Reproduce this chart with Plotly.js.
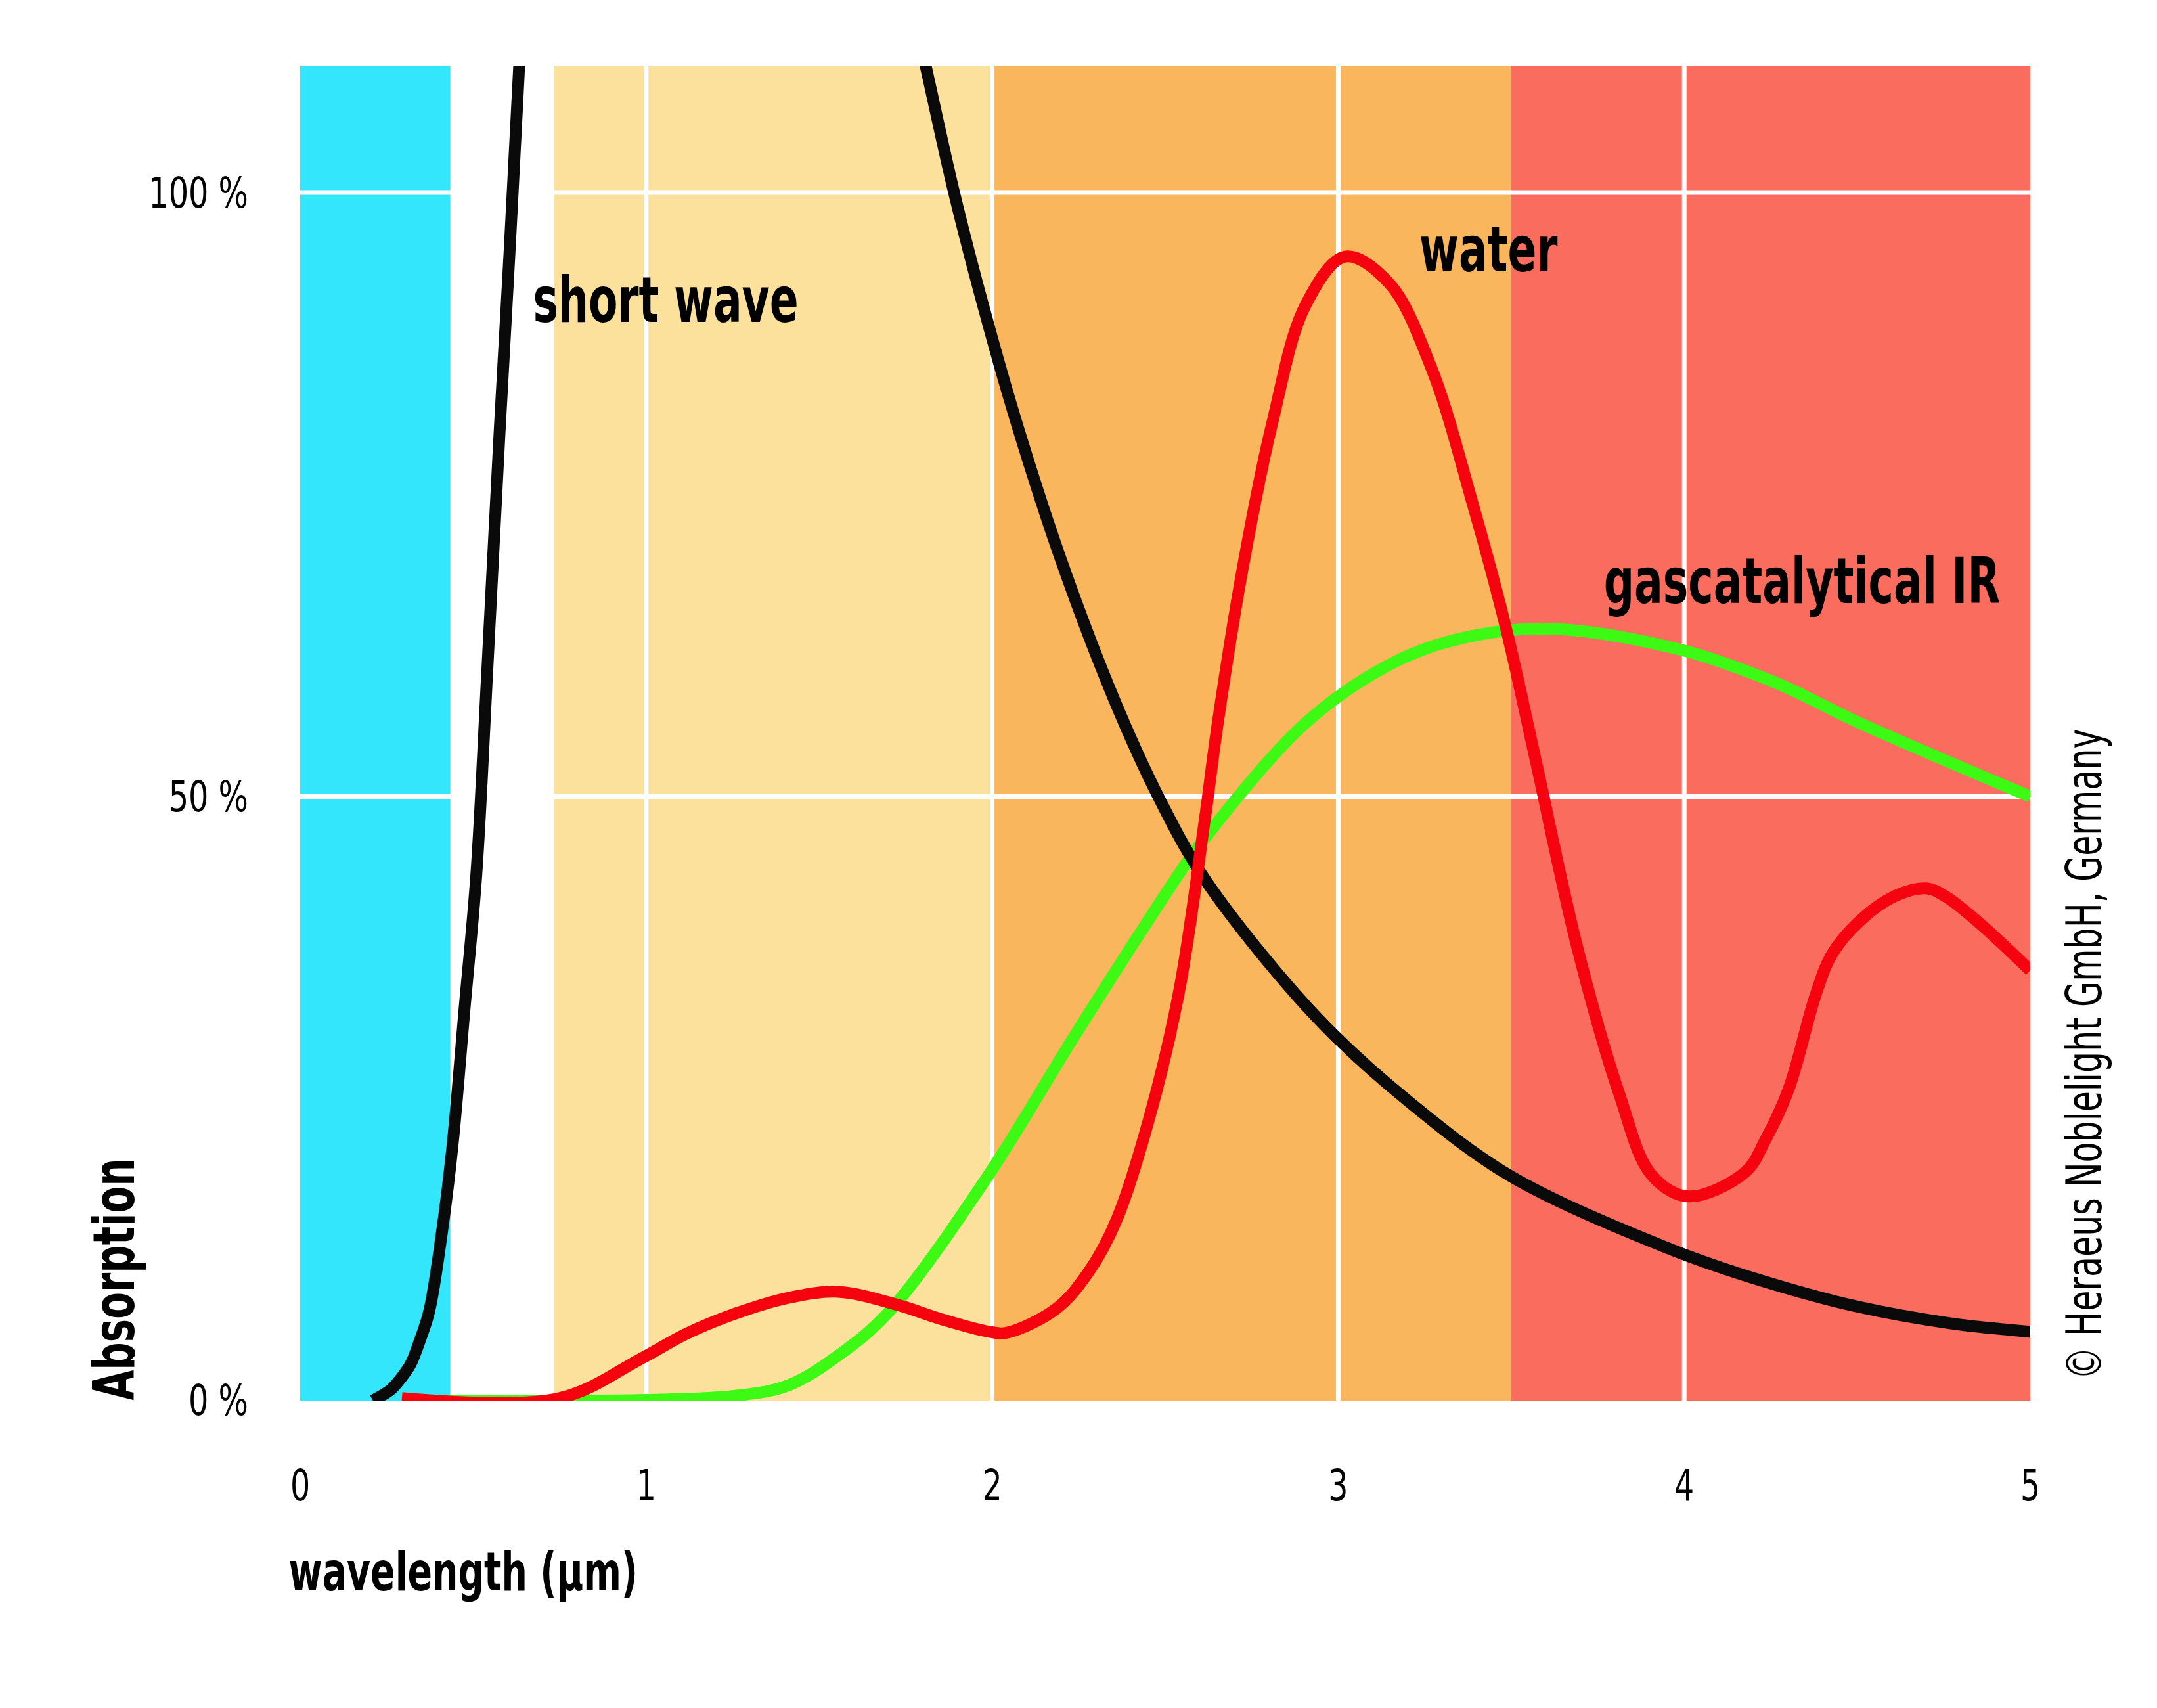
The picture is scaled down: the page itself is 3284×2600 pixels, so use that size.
<!DOCTYPE html>
<html>
<head>
<meta charset="utf-8">
<script src="https://cdn.plot.ly/plotly-3.0.1.min.js"></script>
<style>
  html, body { margin: 0; padding: 0; background: #ffffff; }
  #chart { width: 3284px; height: 2600px; }
</style>
</head>
<body>
<div id="chart"></div>
<script>
// ---------- data ----------
// wavelength bands (µm) shown as coloured backgrounds
const bandStart = [0, 0.733, 2.004, 3.50];
const bandEnd   = [0.434, 2.004, 3.50, 5.0];
const bandColor = ['#33E6FC', '#FBE19B', '#F9B65D', '#F96C5E'];

// short wave emitter (black); it leaves the top of the chart between its two visible parts
const shortWaveX = [0.21, 0.235, 0.262, 0.29, 0.319, 0.345, 0.373, 0.412, 0.441, 0.475, 0.509, 0.54, 0.576, 0.605, 0.633, 0.655,
                    null,
                    1.78, 1.81, 1.889, 1.98, 2.075, 2.20, 2.353, 2.48, 2.60, 2.783, 2.976, 3.206, 3.497, 3.954, 4.226, 4.497, 4.768, 5.0];
const shortWaveY = [0, 0.4, 0.9, 1.8, 3.0, 4.9, 7.4, 14.4, 21.3, 32.4, 43.5, 60, 80, 95, 110.5, 122,
                    null,
                    114, 110.2, 100.1, 90.0, 80.5, 69.5, 58.0, 50.0, 43.8, 36.8, 30.6, 24.7, 18.6, 12.6, 9.9, 7.8, 6.4, 5.7];

// water absorption (red)
const waterX = [0.294, 0.75, 0.987, 1.114, 1.258, 1.41, 1.555, 1.729, 1.846, 1.991, 2.04, 2.185, 2.28, 2.36, 2.457, 2.541,
                2.614, 2.652, 2.724, 2.81, 2.906, 3.02, 3.147, 3.269, 3.39, 3.487, 3.57, 3.691, 3.812, 3.905, 4.011, 4.176,
                4.235, 4.302, 4.380, 4.428, 4.515, 4.612, 4.70, 4.757, 4.854, 5.0];
const waterY = [0.2, 0.2, 3.5, 5.5, 7.2, 8.5, 9.0, 7.9, 6.8, 5.7, 5.6, 7.6, 10.7, 15.0, 23.7, 34.0,
                48.0, 56.1, 68.9, 81.0, 90.7, 94.7, 92.5, 85.5, 74.1, 63.7, 53.1, 37.5, 25.4, 18.7, 16.9, 18.9,
                21.6, 25.8, 33.6, 37.0, 39.9, 41.8, 42.4, 41.7, 39.5, 35.6];

// gascatalytical IR emitter (green)
const gasX = [0.294, 0.6, 1.0, 1.258, 1.41, 1.556, 1.70, 1.99, 2.234, 2.457, 2.60, 2.906, 3.147, 3.328, 3.594, 3.969, 4.258, 4.506, 5.0];
const gasY = [0, 0, 0.05, 0.4, 1.25, 3.75, 7.3, 18.7, 30.0, 40.0, 46.0, 56.1, 60.9, 62.9, 63.9, 62.3, 59.5, 56.1, 50.0];

// axes
const xTickVals = [0, 1, 2, 3, 4, 5];
const xTickText = ['0', '1', '2', '3', '4', '5'];
const yTickVals = [0, 50, 100];
const yTickText = ['0 %', '50 %', '100 %'];
const xGrid = [1, 2, 3, 4];
const yGrid = [50, 100];

// labels
const curveLabels = ['short wave', 'water', 'gascatalytical IR'];
const curveLabelX = [1.057, 3.434, 4.340];
const curveLabelY = [91.1, 95.3, 67.8];

// ---------- chart ----------
const FONT = "'Liberation Sans Narrow', 'Arial Narrow', 'DejaVu Sans Condensed', 'Roboto Condensed', 'Liberation Sans', sans-serif";

const traces = [
  { x: gasX, y: gasY, type: 'scatter', mode: 'lines', name: curveLabels[2],
    line: { color: '#3CFA14', width: 18, shape: 'spline', smoothing: 1 }, hoverinfo: 'skip' },
  { x: shortWaveX, y: shortWaveY, type: 'scatter', mode: 'lines', name: curveLabels[0], connectgaps: false,
    line: { color: '#0A0A0A', width: 18, shape: 'spline', smoothing: 1 }, hoverinfo: 'skip' },
  { x: waterX, y: waterY, type: 'scatter', mode: 'lines', name: curveLabels[1],
    line: { color: '#F5040F', width: 18, shape: 'spline', smoothing: 1 }, hoverinfo: 'skip' }
];

const shapes = bandStart.map((s, i) => ({
  type: 'rect', layer: 'below', xref: 'x', yref: 'paper',
  x0: s, x1: bandEnd[i], y0: 0, y1: 1,
  fillcolor: bandColor[i], line: { width: 0 }
}));
xGrid.forEach(g => shapes.push({
  type: 'line', layer: 'below', xref: 'x', yref: 'paper', x0: g, x1: g, y0: 0, y1: 1,
  line: { color: '#ffffff', width: 7 }
}));
yGrid.forEach(g => shapes.push({
  type: 'line', layer: 'below', xref: 'paper', yref: 'y', x0: 0, x1: 1, y0: g, y1: g,
  line: { color: '#ffffff', width: 7 }
}));

const annotations = curveLabels.map((t, i) => ({
  x: curveLabelX[i], y: curveLabelY[i], xref: 'x', yref: 'y',
  text: t, showarrow: false, xanchor: 'center', yanchor: 'middle',
  font: { family: FONT, size: 96, color: '#000000', weight: 'bold' }
}));

annotations.push({
  x: 0.0945, y: -0.128, xref: 'paper', yref: 'paper',
  text: 'wavelength (µm)', showarrow: false, xanchor: 'center', yanchor: 'middle',
  font: { family: FONT, size: 82, color: '#000000', weight: 'bold' }
});
annotations.push({
  x: -0.1074, y: 0.0906, xref: 'paper', yref: 'paper',
  text: 'Absorption', showarrow: false, textangle: -90, xanchor: 'center', yanchor: 'middle',
  font: { family: FONT, size: 88, color: '#000000', weight: 'bold' }
});
annotations.push({
  x: 1.0311, y: 0.2594, xref: 'paper', yref: 'paper',
  text: '© Heraeus Noblelight GmbH, Germany', showarrow: false, textangle: -90, xanchor: 'center', yanchor: 'middle',
  font: { family: FONT, size: 75, color: '#000000' }
});

const layout = {
  width: 3284, height: 2600,
  margin: { l: 457, r: 193, t: 100, b: 468, pad: 0 },
  paper_bgcolor: '#ffffff', plot_bgcolor: '#ffffff',
  showlegend: false,
  font: { family: FONT, color: '#000000' },
  xaxis: {
    range: [0, 5], tickvals: xTickVals, ticktext: xTickText, showgrid: false, zeroline: false, showline: false,
    ticks: '', ticklabelstandoff: 85, tickfont: { family: FONT, size: 66, color: '#000000' }, fixedrange: true
  },
  yaxis: {
    range: [0, 110.5], tickvals: yTickVals, ticktext: yTickText, showgrid: false, zeroline: false, showline: false,
    ticks: '', ticklabelstandoff: 78, tickfont: { family: FONT, size: 64, color: '#000000' }, fixedrange: true
  },
  shapes: shapes,
  annotations: annotations
};

// narrow the lettering horizontally around each text's own anchor, like the condensed face of the original
function condense(selector, s) {
  document.querySelectorAll(selector).forEach(t => {
    const x = parseFloat(t.getAttribute('x') || '0') || 0;
    const tr = t.getAttribute('transform') || '';
    t.setAttribute('transform', (tr + ' translate(' + x + ',0) scale(' + s + ',1) translate(' + (-x) + ',0)').trim());
  });
}

Plotly.newPlot('chart', traces, layout, { staticPlot: true, displayModeBar: false }).then(() => {
  condense('#chart .xtick text', 0.8);
  condense('#chart .ytick text', 0.83);
  condense('#chart text.annotation-text', 0.75);
});
</script>
</body>
</html>
